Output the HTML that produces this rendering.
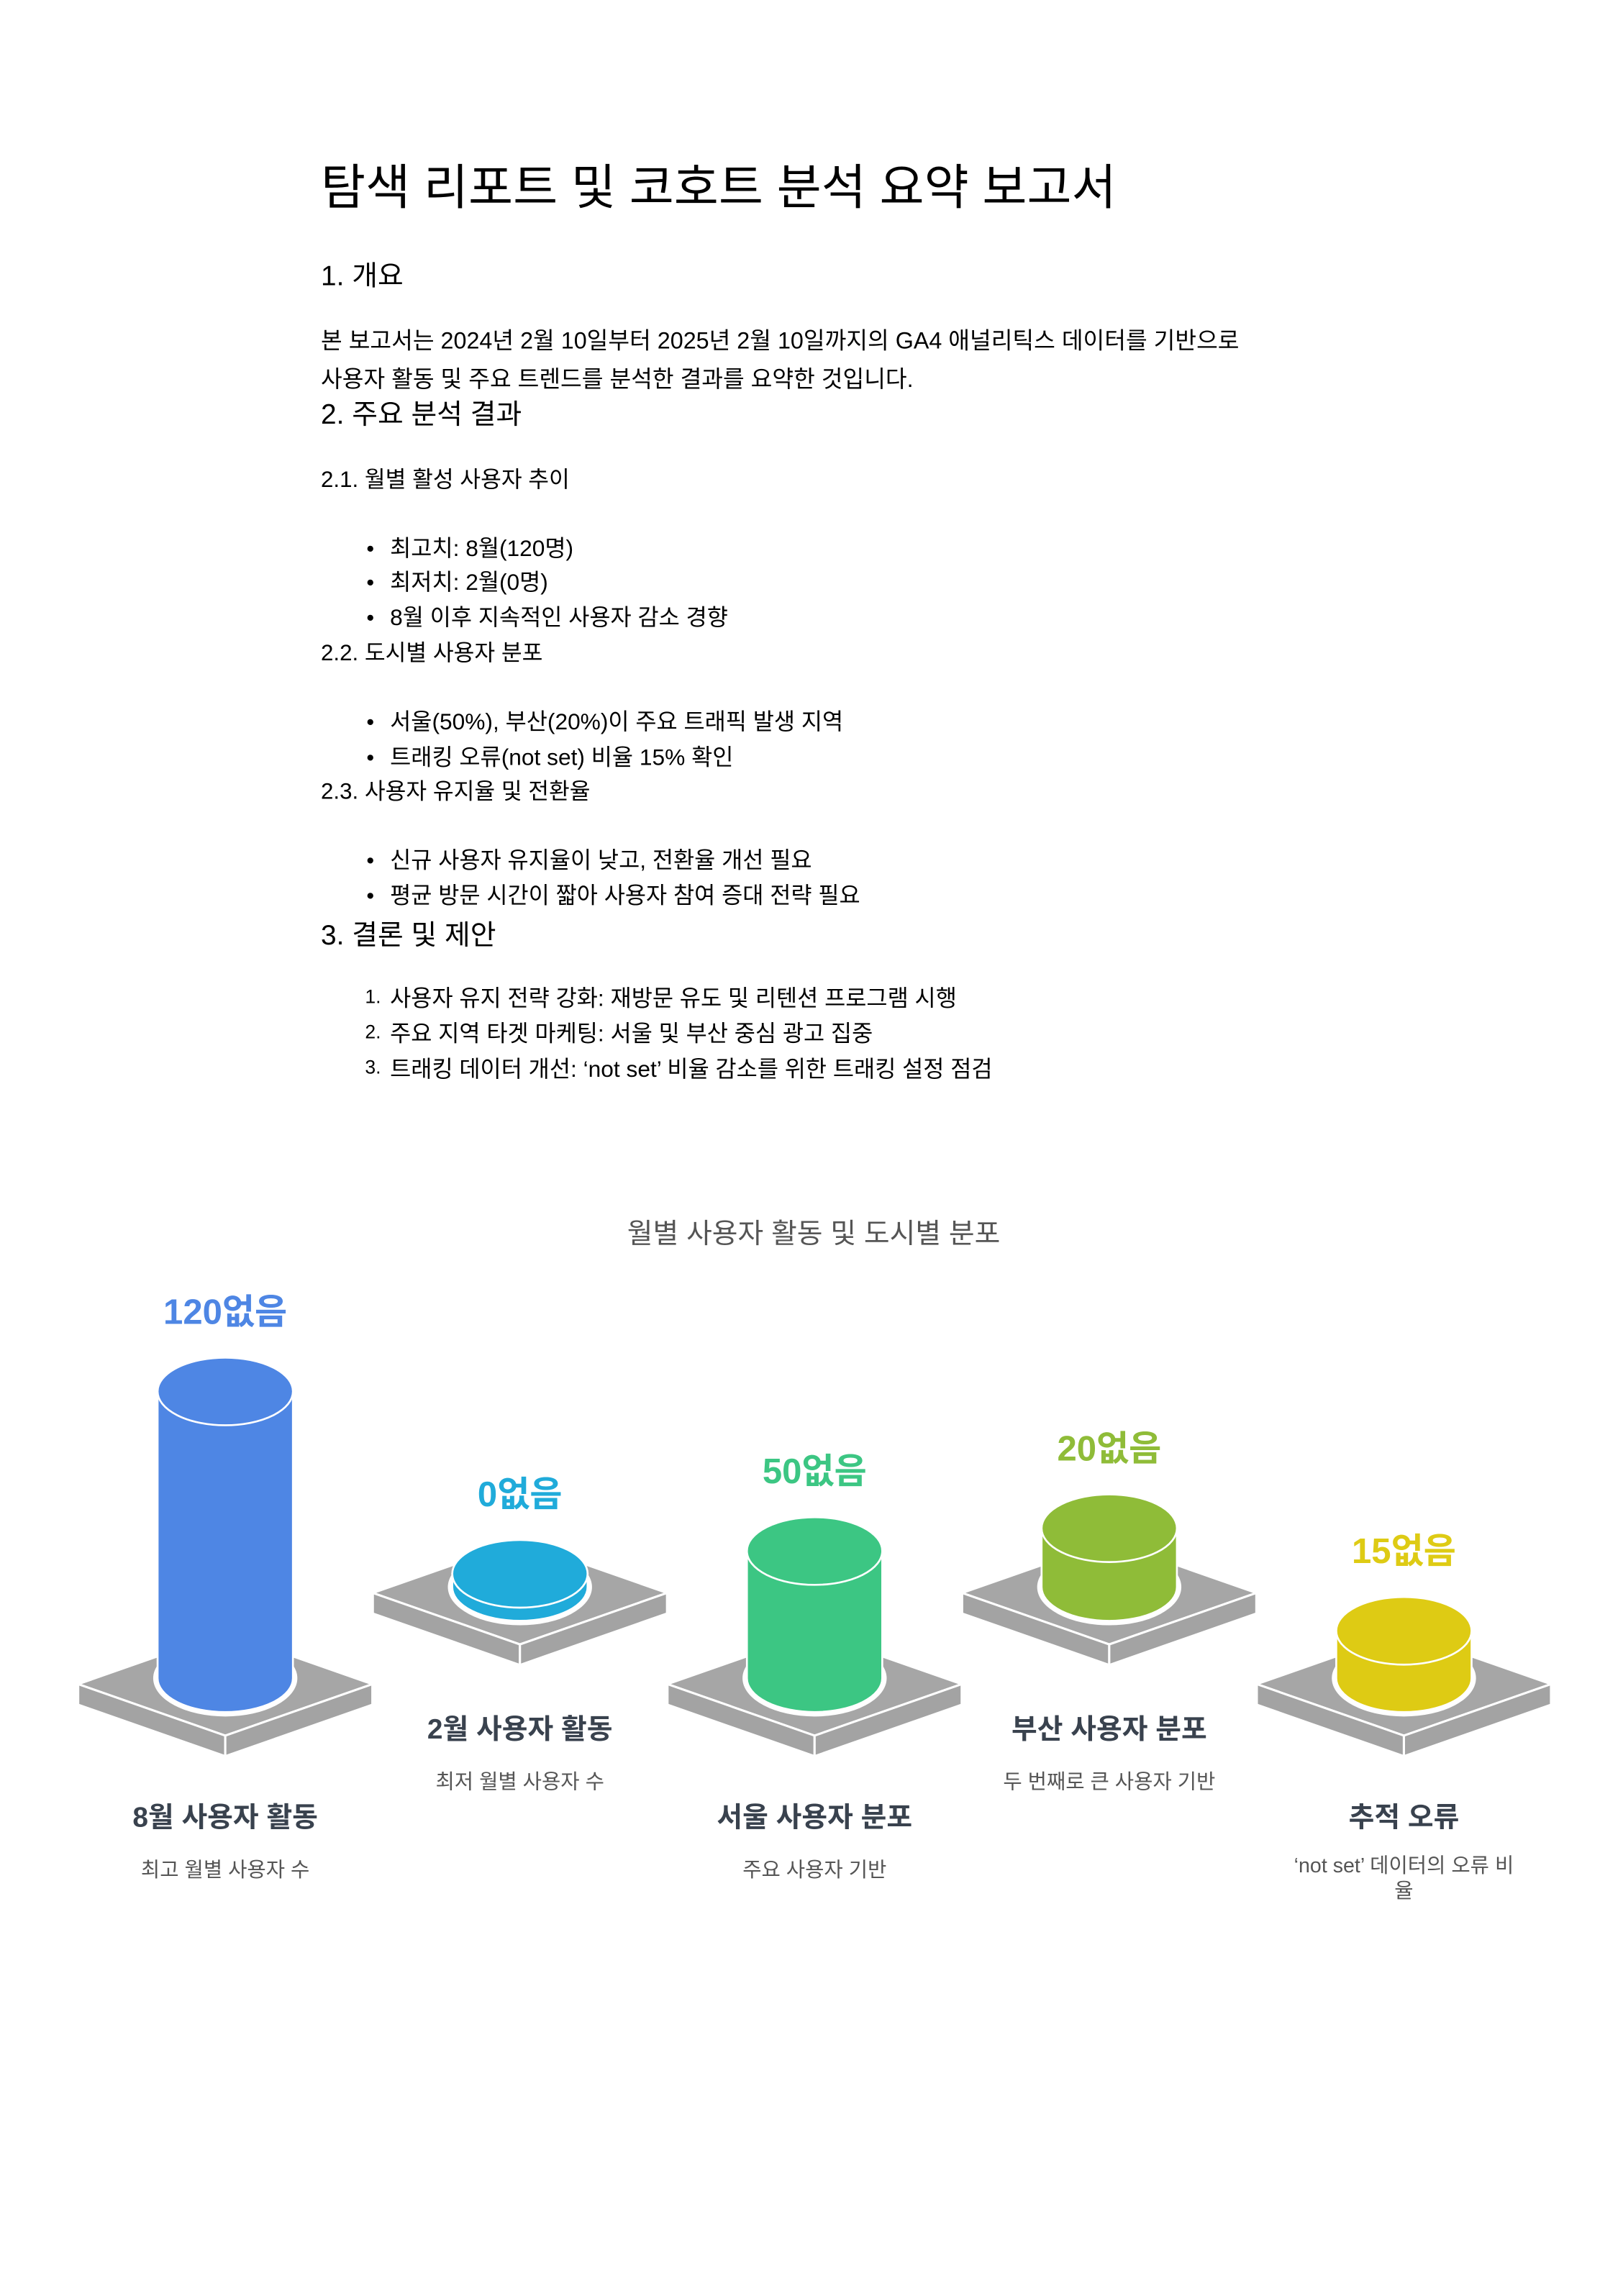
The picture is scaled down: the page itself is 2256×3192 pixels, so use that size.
<!DOCTYPE html>
<html><head><meta charset="utf-8"><style>
html,body{margin:0;padding:0;background:#fff;}
svg{display:block;}
.t{font-family:"Liberation Sans","Noto Sans CJK KR",sans-serif;}
</style></head><body>
<svg id="page" width="2256" height="3192" viewBox="0 0 1103 1561" xmlns="http://www.w3.org/2000/svg">
<g class="t" fill="#000">
<text x="218" y="139" font-size="33">탐색 리포트 및 코호트 분석 요약 보고서</text>
<text x="218" y="194" font-size="19">1. 개요</text>
<text x="218" y="237" font-size="15.8">본 보고서는 2024년 2월 10일부터 2025년 2월 10일까지의 GA4 애널리틱스 데이터를 기반으로</text>
<text x="218" y="263" font-size="15.8">사용자 활동 및 주요 트렌드를 분석한 결과를 요약한 것입니다.</text>
<text x="218" y="288" font-size="19">2. 주요 분석 결과</text>
<text x="218" y="331" font-size="15.3">2.1. 월별 활성 사용자 추이</text>
<text x="249" y="378" font-size="15">•</text><text x="265" y="378" font-size="15.5">최고치: 8월(120명)</text>
<text x="249" y="401" font-size="15">•</text><text x="265" y="401" font-size="15.5">최저치: 2월(0명)</text>
<text x="249" y="425" font-size="15">•</text><text x="265" y="425" font-size="15.5">8월 이후 지속적인 사용자 감소 경향</text>
<text x="218" y="449" font-size="15.3">2.2. 도시별 사용자 분포</text>
<text x="249" y="496" font-size="15">•</text><text x="265" y="496" font-size="15.5">서울(50%), 부산(20%)이 주요 트래픽 발생 지역</text>
<text x="249" y="520" font-size="15">•</text><text x="265" y="520" font-size="15.5">트래킹 오류(not set) 비율 15% 확인</text>
<text x="218" y="543" font-size="15.3">2.3. 사용자 유지율 및 전환율</text>
<text x="249" y="590" font-size="15">•</text><text x="265" y="590" font-size="15.5">신규 사용자 유지율이 낮고, 전환율 개선 필요</text>
<text x="249" y="614" font-size="15">•</text><text x="265" y="614" font-size="15.5">평균 방문 시간이 짧아 사용자 참여 증대 전략 필요</text>
<text x="218" y="642" font-size="19">3. 결론 및 제안</text>
<text x="248" y="682" font-size="13">1.</text><text x="265" y="684" font-size="15.5">사용자 유지 전략 강화: 재방문 유도 및 리텐션 프로그램 시행</text>
<text x="248" y="706" font-size="13">2.</text><text x="265" y="708" font-size="15.5">주요 지역 타겟 마케팅: 서울 및 부산 중심 광고 집중</text>
<text x="248" y="730" font-size="13">3.</text><text x="265" y="732" font-size="15.5">트래킹 데이터 개선: ‘not set’ 비율 감소를 위한 트래킹 설정 점검</text>
</g>
<text class="t" x="553" y="845" font-size="19" fill="#555" text-anchor="middle">월별 사용자 활동 및 도시별 분포</text>
<g id="chart"></g>
</svg>
<script>
const values = [120, 0, 50, 20, 15];
const valueLabels = ['120없음', '0없음', '50없음', '20없음', '15없음'];
const titles = ['8월 사용자 활동', '2월 사용자 활동', '서울 사용자 분포', '부산 사용자 분포', '추적 오류'];
const subtitles = [['최고 월별 사용자 수'], ['최저 월별 사용자 수'], ['주요 사용자 기반'], ['두 번째로 큰 사용자 기반'], ['‘not set’ 데이터의 오류 비', '율']];
const colors = ['#4E86E4', '#20ABDA', '#3CC683', '#8FBC38', '#DECB14'];

const NS = 'http://www.w3.org/2000/svg';
const g = document.getElementById('chart');
function mk(tag, attrs) { const e = document.createElementNS(NS, tag); for (const k in attrs) e.setAttribute(k, attrs[k]); g.appendChild(e); return e; }
function xPos(i) { return 153 + i * 200.3; }
function hScale(v) { return 9 + 1.55 * v; }
values.forEach((v, i) => {
  const c = xPos(i);
  const py = i % 2 === 0 ? 1145 : 1083;
  const hw = 100, hh = 35, th = 14;
  const top = mk('polygon', {points: `${c-hw},${py} ${c},${py-hh} ${c+hw},${py} ${c},${py+hh}`, fill: '#a6a6a6', stroke: '#fff', 'stroke-width': 1.5});
  
  
  const lf = mk('polygon', {points: `${c-hw},${py} ${c},${py+hh} ${c},${py+hh+th} ${c-hw},${py+th}`, fill: '#a3a3a3', stroke: '#fff', 'stroke-width': 1.5});
  
  
  const rf = mk('polygon', {points: `${c+hw},${py} ${c},${py+hh} ${c},${py+hh+th} ${c+hw},${py+th}`, fill: '#a3a3a3', stroke: '#fff', 'stroke-width': 1.5});
  
  
  const rx = 46, ry = 23;
  const base = py - 4;
  const tY = base - hScale(v);
  const halo = mk('ellipse', {cx: c, cy: base, rx: rx + 3, ry: ry + 3, fill: '#fff'});
  
  
  const side = mk('path', {d: `M${c-rx},${tY} L${c-rx},${base} A${rx},${ry} 0 0 0 ${c+rx},${base} L${c+rx},${tY} Z`, fill: colors[i], stroke: '#fff', 'stroke-width': 1.3});
  
  
  const cap = mk('ellipse', {cx: c, cy: tY, rx: rx, ry: ry, fill: colors[i], stroke: '#fff', 'stroke-width': 1.3});
  
  
  const vl = mk('text', {x: c, y: tY - ry - 23, 'text-anchor': 'middle', 'font-size': 24, 'font-weight': 'bold', fill: colors[i], class: 't'});
  vl.textContent = valueLabels[i];
  
  
  const ty = i % 2 === 0 ? 1242 : 1182;
  const tl = mk('text', {x: c, y: ty, 'text-anchor': 'middle', 'font-size': 19, 'font-weight': 'bold', fill: '#39424e', class: 't'});
  tl.textContent = titles[i];
  
  
  subtitles[i].forEach((s, j) => {
    const st = mk('text', {x: c, y: ty + (subtitles[i].length > 1 ? 31 : 34) + j * 17, 'text-anchor': 'middle', 'font-size': 14, fill: '#555', class: 't'});
    st.textContent = s;
    
    
  });
});
</script>
</body></html>
